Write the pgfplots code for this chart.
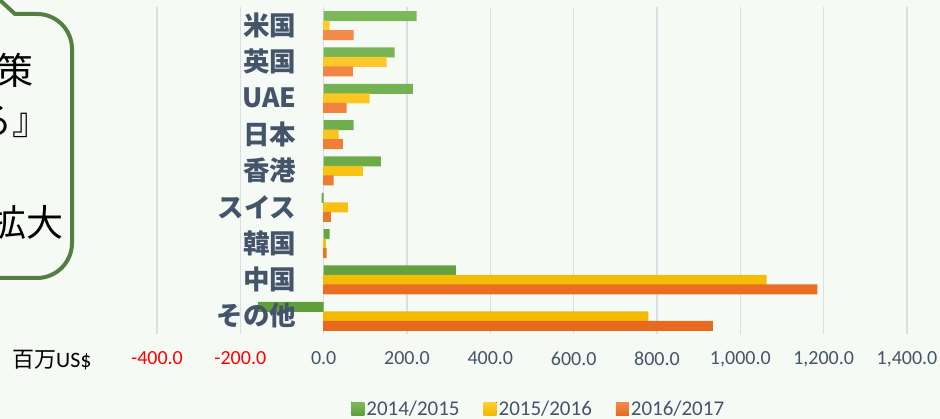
\documentclass[border=0pt]{standalone}
\usepackage{fontspec}
\setmainfont{Carlito}
\newfontfamily\cjk{Noto Sans CJK JP}
\usepackage{pgfplots}
\pgfplotsset{compat=1.18}
\definecolor{bg}{HTML}{F6FAF4}
\definecolor{lab}{HTML}{44546A}
\definecolor{gridc}{HTML}{DADEE4}
\definecolor{bubble}{HTML}{538040}
\definecolor{gtop}{HTML}{7CB85A}
\definecolor{gbot}{HTML}{5E9E3A}
\definecolor{ytop}{HTML}{FFCB2E}
\definecolor{ybot}{HTML}{F3B900}
\definecolor{otop}{HTML}{F38B4B}
\definecolor{obot}{HTML}{E8691E}
\tikzset{catlab/.style={anchor=east, inner sep=0pt, text=lab, font=\cjk\bfseries\fontsize{26.5}{26.5}\selectfont}}
\begin{document}
\begin{tikzpicture}
\useasboundingbox (0,0) rectangle (940pt,419pt);
\fill[bg] (0,0) rectangle (940pt,419pt);
\begin{scope}
\clip (0,0) rectangle (940pt,419pt);
\draw[bubble, line width=4pt, fill=bg] (-10pt,428pt) -- (15pt,405pt) -- (37pt,405pt) arc[start angle=90,end angle=0,radius=35pt] -- (72pt,176pt) arc[start angle=0,end angle=-90,radius=35pt] -- (-10pt,141pt);
\node[anchor=base east, font=\cjk\fontsize{37}{37}\selectfont, inner sep=0pt] at (34pt,334pt) {策};
\node[anchor=base east, font=\cjk\fontsize{37}{37}\selectfont, inner sep=0pt] at (50pt,284pt) {る』};
\node[anchor=base east, font=\cjk\fontsize{37}{37}\selectfont, inner sep=0pt] at (64pt,182pt) {拡大};
\node[anchor=base west, font=\cjk\fontsize{22}{22}\selectfont, inner sep=0pt] at (12pt,51pt) {百万\fontspec{Carlito}US\$};
\end{scope}
\begin{axis}[
  xbar, bar width=10pt,
  scale only axis, width=750pt, height=327pt,
  at={(157pt,85pt)}, anchor=south west,
  xmin=-400, xmax=1400, ymin=-0.5, ymax=8.5, y dir=reverse,
  xtick={-400,-200,0,200,400,600,800,1000,1200,1400},
  xticklabels={\textcolor{red}{-400.0},\textcolor{red}{-200.0},0.0,200.0,400.0,600.0,800.0,{1,000.0},{1,200.0},{1,400.0}},
  ytick=\empty,
  xmajorgrids, major grid style={draw=gridc, line width=1.3pt},
  axis line style={draw=none}, major tick length=0pt,
  tick style={draw=none},
  xticklabel style={font=\fontsize{20}{20}\selectfont, text=lab, yshift=-14pt},
  legend columns=3,
  legend style={at={(axis description cs:0.509,-0.229)}, anchor=center, draw=none, fill=none,
    font=\fontsize{21}{21}\selectfont, text=lab,
    /tikz/every even column/.append style={column sep=22pt}},
  legend image code/.code={\fill[#1] (0pt,-6.5pt) rectangle (13pt,6.5pt);},
  after end axis/.code={
    \node[catlab] at ([xshift=-27pt]axis cs:0,0) {米国};
    \node[catlab] at ([xshift=-27pt]axis cs:0,1) {英国};
    \node[catlab] at ([xshift=-27pt]axis cs:0,2) {UAE};
    \node[catlab] at ([xshift=-27pt]axis cs:0,3) {日本};
    \node[catlab] at ([xshift=-27pt]axis cs:0,4) {香港};
    \node[catlab] at ([xshift=-27pt]axis cs:0,5) {スイス};
    \node[catlab] at ([xshift=-27pt]axis cs:0,6) {韓国};
    \node[catlab] at ([xshift=-27pt]axis cs:0,7) {中国};
    \node[catlab] at ([xshift=-27pt]axis cs:0,8) {その他};
  },
]
\addplot[bar shift=9pt, draw=none, top color=gtop, bottom color=gbot] coordinates {(223,0) (170,1) (214,2) (72,3) (137,4) (-5,5) (14,6) (317,7) (-156,8)};
\addplot[bar shift=-0.5pt, draw=none, top color=ytop, bottom color=ybot] coordinates {(14,0) (151,1) (110,2) (36,3) (94,4) (58,5) (5,6) (1063,7) (779,8)};
\addplot[bar shift=-10pt, draw=none, top color=otop, bottom color=obot] coordinates {(72,0) (70,1) (55,2) (46,3) (24,4) (17,5) (7,6) (1185,7) (934,8)};
\legend{2014/2015,2015/2016,2016/2017}
\end{axis}
\end{tikzpicture}
\end{document}
